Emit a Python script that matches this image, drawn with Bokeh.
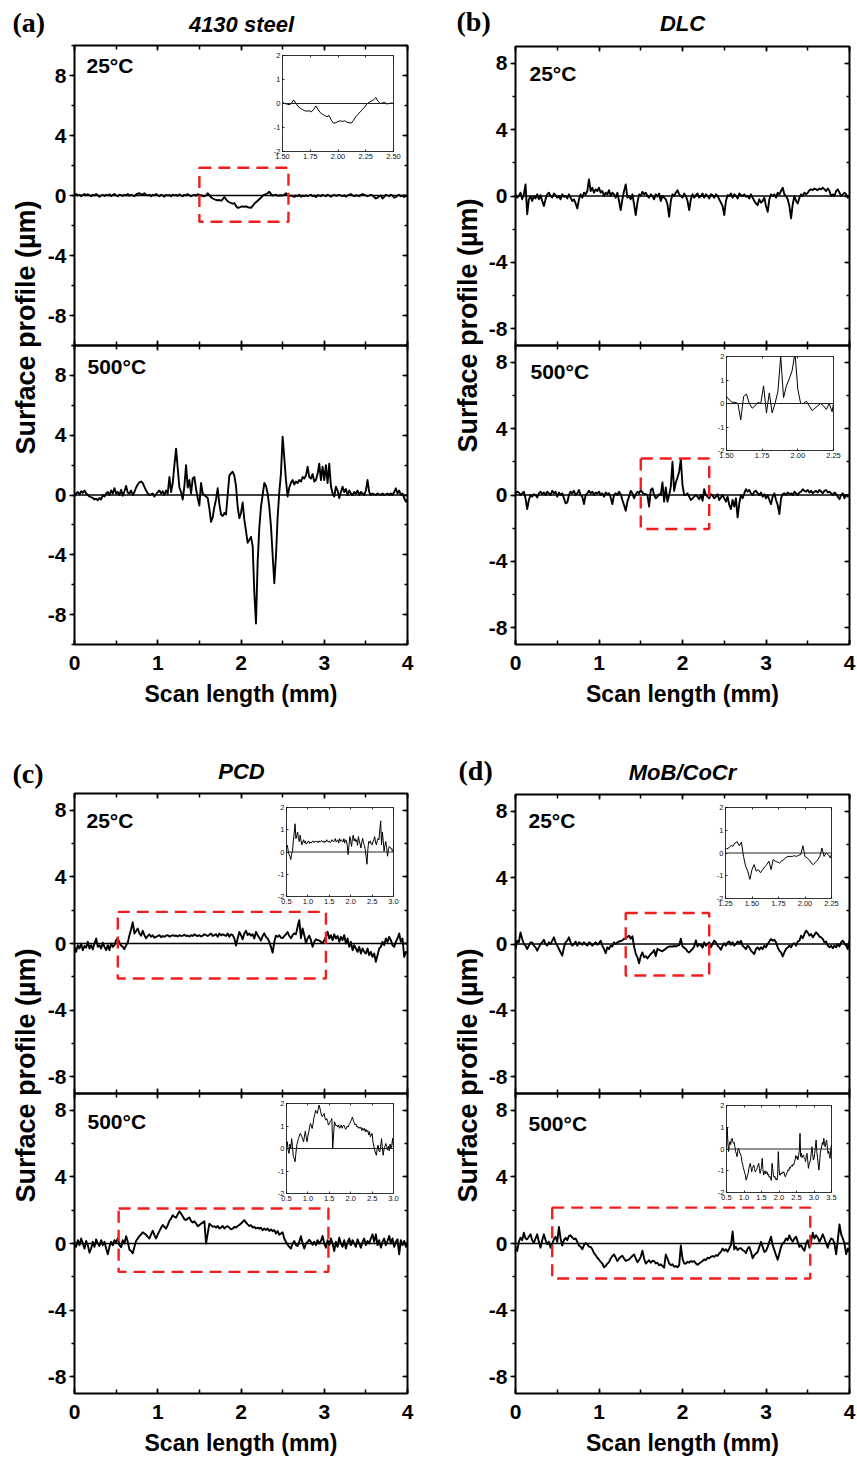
import math
import numpy as np
from bokeh.plotting import figure
from bokeh.models import (GridBox, Span, BoxAnnotation, Label, LinearAxis, Range1d,
                          SingleIntervalTicker, FixedTicker, CustomJSTickFormatter,
                          PrintfTickFormatter)
from bokeh.embed import file_html
from bokeh.resources import INLINE

# ---------------- data (surface profiles, um, sampled every 0.02 mm) ----------------
scan_step_mm = 0.02
scan_x = np.round(np.arange(201) * scan_step_mm, 2)

steel_25 = [
    0.05, 0.1, 0.0, 0.05, -0.05, 0.05, 0.1, 0.0, 0.08, 0.02,
    -0.05, 0.05, 0.0, 0.1, 0.02, -0.08, 0.0, 0.05, -0.03, 0.05,
    0.0, 0.08, -0.05, 0.03, 0.1, 0.0, -0.05, 0.05, 0.02, -0.03,
    0.05, 0.0, 0.1, -0.02, 0.05, 0.0, -0.05, 0.08, 0.12, 0.15,
    0.1, 0.05, 0.15, 0.05, 0.0, 0.05, -0.05, 0.05, 0.0, 0.1,
    0.02, -0.05, 0.05, 0.0, -0.08, 0.05, 0.0, 0.03, -0.05, 0.05,
    0.0, 0.05, -0.03, 0.08, 0.0, -0.05, 0.05, 0.0, 0.1, 0.02,
    -0.05, 0.0, 0.05, -0.02, 0.08, 0.05, 0.0, -0.02, -0.05, 0.0,
    0.15, 0.02, -0.12, -0.2, -0.25, -0.3, -0.32, -0.3, -0.35, -0.25,
    -0.1, -0.25, -0.38, -0.45, -0.5, -0.55, -0.5, -0.7, -0.82, -0.8,
    -0.75, -0.72, -0.75, -0.72, -0.78, -0.8, -0.82, -0.7, -0.55, -0.45,
    -0.35, -0.25, -0.15, -0.02, 0.05, 0.1, 0.15, 0.25, 0.1, 0.0,
    0.02, 0.05, -0.02, 0.0, 0.02, 0.0, 0.05, 0.15, 0.05, -0.05,
    0.0, -0.05, -0.1, 0.0, -0.05, 0.05, -0.08, 0.0, -0.05, 0.02,
    -0.05, 0.0, 0.05, -0.05, 0.0, -0.1, 0.02, 0.0, -0.05, 0.05,
    0.0, -0.05, 0.05, 0.0, -0.08, 0.0, 0.05, -0.02, 0.0, 0.05,
    0.0, -0.05, 0.02, -0.08, 0.0, 0.05, 0.1, 0.0, -0.05, 0.02,
    0.0, -0.05, 0.05, 0.1, 0.05, 0.0, -0.05, 0.0, 0.05, 0.0,
    -0.1, -0.2, -0.15, -0.05, 0.0, -0.2, -0.1, 0.05, 0.0, -0.05,
    0.05, 0.0, -0.15, -0.1, 0.0, 0.05, -0.05, 0.0, -0.1, -0.05,
    0.0]

steel_500 = [
    -0.1, 0.1, 0.2, 0.05, 0.25, 0.15, 0.3, 0.1, 0.0, -0.1,
    -0.15, -0.2, -0.3, -0.25, -0.35, -0.2, -0.3, 0.0, -0.1, 0.1,
    0.2, 0.0, 0.3, 0.1, 0.45, 0.1, 0.2, 0.0, 0.35, -0.05,
    0.25, 0.6, 0.15, 0.1, 0.3, 0.0, 0.2, 0.5, 0.7, 0.85,
    0.9, 0.8, 0.55, 0.3, 0.1, 0.0, 0.05, 0.1, -0.1, 0.05,
    0.2, 0.3, 0.1, 0.25, 0.0, 0.3, 0.1, 1.2, 0.2, 0.8,
    2.0, 3.1, 1.8, 0.5, 0.2, -0.3, 0.6, 2.0, 0.5, 1.0,
    0.1, 1.1, 1.2, 0.4, -0.2, -0.7, 0.8, 0.1, 0.0, -0.1,
    -0.2, -0.9, -1.8, -1.5, -0.8, -0.3, 0.45, -0.6, -1.3, -1.4,
    -1.2, -1.3, 0.0, 1.3, 1.45, 1.55, 1.3, 0.6, -0.8, -1.55,
    -1.2, -0.5, -1.65, -2.4, -3.2, -3.0, -2.8, -3.4, -6.5, -8.6,
    -4.5, -2.2, -0.8, 0.0, 0.8, 0.6, 0.1, -0.8, -2.1, -4.0,
    -5.9, -4.1, -1.5, 0.2, 1.45, 3.9, 2.5, 1.0, -0.1, 0.5,
    0.8, 1.0, 0.7, 0.9, 0.8, 1.0, 0.9, 1.2, 1.1, 1.3,
    1.9, 1.2, 1.1, 1.4, 0.9, 1.0, 1.4, 2.1, 1.0, 1.9,
    1.0, 2.0, 0.8, 2.1, 0.6, 0.1, -0.1, 0.55, 0.3, -0.2,
    0.2, 0.55, 0.2, 0.4, 0.0, 0.3, 0.1, 0.0, 0.2, 0.1,
    0.3, 0.0, 0.2, 0.1, 0.0, 0.3, 1.0, 0.2, 0.0, 0.1,
    0.05, 0.0, 0.1, 0.05, 0.0, 0.1, 0.0, 0.05, 0.1, 0.0,
    0.1, 0.0, 0.2, 0.45, 0.1, 0.3, 0.0, 0.1, -0.2, -0.45,
    -0.3]

dlc_25 = [
    0.1, -0.1, 0.0, 0.2, -0.2, 0.1, 0.7, -1.1, -0.2, 0.0,
    -0.3, 0.0, -0.15, 0.1, -0.2, 0.05, -0.3, -0.6, -0.2, 0.1,
    0.2, 0.0, -0.1, 0.15, 0.05, -0.1, 0.0, -0.2, 0.1, -0.05,
    0.0, -0.15, 0.1, -0.1, -0.3, -0.2, -0.45, -0.75, -0.2, 0.1,
    -0.1, 0.2, 0.1, 0.3, 1.0, 0.3, 0.5, 0.2, 0.4, 0.3,
    0.5, 0.2, 0.3, 0.0, 0.2, 0.1, 0.35, 0.0, 0.2, 0.1,
    -0.1, 0.2, -0.3, -0.85, -0.2, 0.3, 0.7, -0.1, 0.0, -0.2,
    0.1, -0.5, -1.15, -0.4, 0.1, 0.0, 0.25, 0.1, 0.2, 0.0,
    -0.1, 0.1, 0.0, -0.2, 0.1, -0.05, 0.15, -0.3, 0.0, -0.1,
    -0.2, -0.5, -1.25, -0.3, 0.1, 0.0, 0.2, 0.35, 0.1, 0.0,
    -0.1, 0.15, 0.0, -0.3, -0.85, -0.2, 0.1, -0.1, 0.05, 0.15,
    -0.1, 0.0, 0.15, -0.1, 0.1, 0.0, -0.15, 0.1, 0.05, -0.1,
    0.1, 0.0, -0.2, -0.4, -0.6, -1.15, -0.3, 0.05, 0.0, 0.15,
    -0.1, 0.1, 0.0, -0.15, 0.15, 0.05, 0.0, 0.1, -0.05, 0.0,
    -0.15, 0.1, -0.1, -0.3, -0.45, -0.55, -0.2, -0.4, -0.3, -0.1,
    -0.6, -0.95, -0.2, 0.1, 0.0, 0.1, -0.1, 0.2, 0.1, 0.3,
    0.5, 0.1, 0.0, -0.2, -0.6, -1.35, -0.5, 0.0, -0.3, -0.45,
    -0.1, 0.1, 0.0, 0.2, 0.1, 0.2, 0.35, 0.4, 0.35, 0.45,
    0.4, 0.35, 0.45, 0.4, 0.5, 0.4, 0.3, 0.45, 0.3, 0.0,
    0.1, 0.0, 0.3, 0.4, 0.2, 0.0, 0.1, 0.2, 0.1, -0.1,
    0.0]

dlc_500 = [
    0.1, 0.2, 0.15, 0.0, 0.1, 0.2, -0.2, -0.85, -0.3, 0.0,
    -0.1, 0.05, 0.0, -0.15, 0.1, 0.2, 0.05, 0.15, 0.0, 0.2,
    0.1, 0.0, 0.25, 0.1, 0.2, -0.1, 0.15, 0.0, 0.1, -0.2,
    -0.5, -0.45, 0.0, 0.2, 0.1, 0.25, 0.0, 0.1, 0.3, 0.0,
    -0.1, -0.55, 0.0, 0.1, 0.25, 0.1, 0.2, 0.0, 0.15, 0.1,
    0.2, 0.0, 0.1, -0.1, 0.15, 0.05, 0.1, -0.15, -0.55, 0.0,
    0.1, 0.0, 0.2, 0.05, -0.3, -0.6, -0.95, -0.4, -0.1, 0.25,
    0.1, -0.2, 0.05, 0.2, 0.1, 0.3, 0.15, 0.05, 0.05, 0.0,
    -0.7, 0.3, 0.4, 0.0, -0.2, -0.1, 0.05, 0.0, 0.75, -0.4,
    0.45, -0.4, 0.0, 0.5, 2.0, 0.25, 0.75, 1.05, 1.4, 2.15,
    0.6, 0.0, 0.0, 0.1, -0.1, -0.3, -0.2, -0.1, 0.0, -0.1,
    -0.25, 0.0, -0.35, 0.35, 0.0, -0.1, -0.2, 0.05, -0.05, -0.2,
    -0.1, 0.05, -0.3, -0.15, 0.0, -0.2, -0.4, -0.1, -0.6, -0.85,
    -0.3, -0.7, -0.2, -1.35, -0.5, 0.0, -0.2, 0.1, 0.35, 0.2,
    0.3, 0.1, 0.0, 0.2, 0.25, 0.1, 0.0, 0.15, -0.1, 0.05,
    -0.2, 0.0, -0.3, -0.55, -0.1, 0.1, -0.3, -0.6, -1.15, -0.2,
    0.05, 0.1, 0.0, 0.15, 0.05, 0.1, 0.0, 0.2, 0.1, 0.0,
    0.15, 0.2, 0.35, 0.25, 0.2, 0.3, 0.15, 0.25, 0.1, 0.2,
    0.25, 0.15, 0.3, 0.2, 0.1, 0.25, 0.3, 0.15, 0.2, 0.1,
    0.0, 0.15, 0.05, -0.1, -0.25, 0.0, 0.1, -0.2, 0.0, -0.1,
    0.0]

pcd_25 = [
    -0.2, -0.5, -0.1, -0.3, 0.0, -0.4, -0.15, -0.25, 0.1, -0.3,
    -0.1, -0.35, 0.0, 0.3, -0.2, -0.1, -0.3, 0.05, -0.2, -0.4,
    -0.1, -0.4, 0.0, -0.2, -0.1, 0.2, 0.3, 0.05, -0.12, -0.2,
    -0.34, -0.1, 0.05, 0.5, 0.85, 1.27, 0.6, 0.75, 0.9, 0.6,
    0.47, 0.76, 0.5, 0.32, 0.45, 0.55, 0.4, 0.5, 0.35, 0.4,
    0.45, 0.5, 0.38, 0.45, 0.4, 0.47, 0.5, 0.42, 0.45, 0.5,
    0.45, 0.48, 0.42, 0.5, 0.45, 0.47, 0.52, 0.45, 0.48, 0.42,
    0.5, 0.45, 0.55, 0.48, 0.45, 0.5, 0.42, 0.47, 0.55, 0.5,
    0.45, 0.52, 0.6, 0.45, 0.5, 0.55, 0.4, 0.6, 0.48, 0.55,
    0.5, 0.45, 0.6, 0.4, 0.55, 0.5, 0.3, -0.12, 0.3, 0.69,
    0.5, 0.25, 0.6, 0.76, 0.5, 0.6, 0.47, 0.55, 0.3, 0.69,
    0.5, 0.35, 0.18, 0.45, 0.61, 0.4, 0.3, 0.1, -0.2, -0.55,
    0.1, 0.47, 0.4, 0.5, 0.35, 0.32, 0.45, 0.55, 0.69, 0.45,
    0.32, 0.5, 0.61, 0.55, 1.0, 1.4, 0.32, 0.9, 0.5, 0.03,
    0.3, 0.47, 0.2, -0.19, 0.1, 0.25, 0.2, 0.18, 0.1, 0.03,
    0.2, 0.4, 0.7, 0.3, 0.5, 0.2, 0.55, 0.3, 0.45, 0.1,
    0.4, 0.2, 0.5, 0.0, 0.3, -0.2, 0.1, -0.4, -0.1, -0.3,
    -0.5, -0.2, -0.6, -0.3, -0.5, -0.6, -0.3, -0.7, -0.5, -0.8,
    -0.6, -1.1, -0.7, -0.3, -0.2, 0.1, -0.1, 0.3, 0.1, 0.4,
    0.2, -0.1, -0.2, 0.1, 0.3, 0.6, 0.1, 0.3, -0.8, -0.5,
    -0.6]

pcd_500 = [
    0.1, -0.2, 0.2, -0.1, 0.3, 0.0, -0.3, 0.15, -0.1, -0.55,
    -0.3, 0.1, -0.2, 0.25, 0.0, -0.15, 0.2, -0.1, 0.1, -0.3,
    -0.65, -0.2, 0.1, -0.1, 0.2, 0.07, 0.3, -0.1, -0.22, 0.2,
    0.0, 0.44, 0.1, -0.37, -0.45, -0.59, -0.2, 0.15, 0.3, 0.44,
    0.55, 0.67, 0.6, 0.52, 0.4, 0.3, 0.55, 0.77, 0.5, 0.3,
    0.55, 0.74, 0.95, 1.11, 1.0, 0.89, 1.1, 1.36, 1.5, 1.7,
    1.6, 1.56, 1.75, 1.93, 1.8, 1.63, 1.45, 1.41, 1.5, 1.56,
    1.35, 1.26, 1.33, 1.2, 1.04, 1.1, 1.19, 1.25, 1.33, 0.0,
    0.6, 1.19, 1.1, 1.0, 1.04, 0.95, 1.05, 0.9, 0.96, 1.05,
    0.9, 1.0, 1.04, 0.95, 0.85, 0.89, 1.0, 0.95, 1.05, 1.11,
    1.2, 1.3, 1.4, 1.26, 1.15, 1.05, 1.1, 0.96, 1.0, 0.9,
    0.95, 0.89, 0.95, 0.8, 0.9, 0.81, 0.9, 0.75, 0.85, 0.74,
    0.8, 0.6, 0.75, 0.52, 0.6, 0.67, 0.3, 0.1, -0.07, -0.2,
    -0.3, 0.0, 0.15, -0.1, -0.15, 0.1, 0.44, 0.0, -0.3, 0.0,
    0.1, 0.22, 0.1, -0.07, 0.1, -0.1, 0.2, 0.0, 0.15, 0.45,
    0.0, -0.25, 0.2, -0.1, 0.3, 0.0, -0.45, 0.1, -0.2, 0.35,
    0.0, -0.2, 0.2, -0.3, 0.05, 0.3, -0.1, 0.2, 0.0, -0.2,
    0.25, 0.0, -0.25, 0.1, 0.3, -0.1, 0.15, 0.0, 0.3, 0.55,
    0.1, 0.55, -0.1, 0.2, -0.25, 0.1, 0.3, -0.1, 0.15, 0.45,
    0.0, 0.3, -0.2, 0.1, 0.25, -0.65, 0.2, -0.1, 0.15, -0.2,
    0.1]

mob_25 = [
    -0.3, 0.2, 0.1, 0.7, 0.3, 0.0, -0.1, -0.3, -0.1, 0.1,
    0.1, -0.1, -0.2, -0.4, -0.2, 0.0, 0.1, 0.25, 0.0, -0.1,
    0.1, 0.0, 0.2, 0.4, 0.1, -0.1, -0.3, -0.5, -0.7, -0.2,
    0.1, 0.2, 0.4, 0.1, -0.1, 0.0, 0.15, -0.1, 0.1, 0.05,
    -0.05, 0.1, 0.0, -0.1, 0.1, 0.05, -0.1, 0.0, 0.1, -0.05,
    0.05, 0.2, -0.1, -0.3, -0.55, -0.2, -0.3, -0.1, -0.15, 0.1,
    0.0, 0.1, 0.15, 0.18, 0.22, 0.32, 0.3, 0.44, 0.5, 0.32,
    0.47, -0.15, -0.58, -0.8, -1.16, -0.73, -0.51, -0.8, -0.73, -0.87,
    -0.73, -0.6, -0.51, -0.36, -0.73, -0.29, -0.36, -0.4, -0.44, -0.35,
    -0.29, -0.2, -0.15, -0.15, -0.15, -0.12, -0.15, -0.1, -0.07, 0.32,
    -0.15, -0.22, -0.3, -0.45, -0.51, -0.4, -0.3, -0.15, 0.22, -0.15,
    0.0, -0.07, -0.22, 0.1, -0.1, 0.0, 0.1, -0.2, 0.0, 0.2,
    0.1, -0.1, -0.2, -0.35, -0.1, 0.05, -0.1, 0.1, 0.15, -0.05,
    0.1, -0.1, 0.0, 0.15, 0.05, 0.2, -0.1, -0.2, -0.3, -0.1,
    -0.2, -0.4, -0.5, -0.6, -0.3, -0.2, -0.35, -0.2, -0.3, -0.1,
    -0.2, 0.0, 0.15, 0.3, 0.2, 0.25, 0.1, -0.2, -0.4, -0.5,
    -0.75, -0.5, -0.3, -0.2, -0.1, -0.2, 0.0, 0.05, -0.1, 0.15,
    0.2, 0.5, 0.35, 0.6, 0.8, 0.7, 0.5, 0.6, 0.4, 0.55,
    0.7, 0.6, 0.45, 0.4, 0.3, 0.1, 0.15, -0.1, -0.2, -0.1,
    -0.25, -0.1, -0.2, 0.0, -0.15, 0.1, 0.2, 0.05, -0.1, -0.3,
    0.2]

mob_500 = [
    -0.2, -0.45, 0.1, 0.35, 0.2, 0.65, 0.3, 0.25, 0.4, 0.55,
    0.2, 0.05, 0.3, 0.55, 0.1, -0.25, 0.2, 0.55, 0.2, -0.05,
    0.1, -0.25, 0.0, 0.25, 0.4, 0.1, 1.0, 0.3, -0.12, 0.2,
    0.34, 0.2, 0.45, 0.49, 0.35, 0.26, 0.3, 0.1, -0.12, -0.2,
    -0.35, -0.1, 0.03, -0.05, -0.2, -0.2, -0.35, -0.58, -0.7, -0.85,
    -0.97, -1.1, -1.2, -1.43, -1.35, -1.2, -1.12, -0.9, -0.75, -0.66,
    -0.85, -1.05, -0.9, -0.8, -0.74, -0.9, -1.05, -1.0, -0.95, -0.85,
    -0.75, -0.66, -0.9, -1.12, -1.0, -0.8, -0.43, -0.9, -1.2, -1.1,
    -1.0, -1.15, -1.05, -1.05, -1.2, -1.15, -1.3, -1.25, -1.35, -1.45,
    -0.66, -0.9, -1.2, -1.3, -1.25, -1.4, -1.35, -1.43, -1.3, -0.12,
    -0.9, -1.2, -1.2, -1.1, -1.15, -1.05, -1.1, -1.05, -1.2, -1.28,
    -1.2, -1.12, -1.05, -0.95, -1.0, -0.85, -0.89, -0.8, -0.75, -0.8,
    -0.7, -0.74, -0.6, -0.5, -0.3, -0.43, -0.35, -0.5, -0.3, -0.1,
    0.72, -0.35, -0.2, -0.4, -0.3, -0.28, -0.4, -0.45, -0.58, -0.3,
    -0.2, -0.5, -0.89, -0.7, -0.6, -0.51, -0.2, 0.1, -0.2, -0.51,
    -0.45, -0.2, 0.1, 0.41, -0.1, -0.4, -0.7, -0.97, -0.6, -0.2,
    0.0, 0.1, 0.3, 0.2, 0.49, 0.25, 0.1, 0.3, 0.41, 0.1,
    -0.2, -0.1, -0.3, -0.43, 0.0, 0.2, -0.25, 0.1, 0.65, 0.3,
    0.5, 0.35, 0.1, 0.3, 0.55, 0.3, 0.0, -0.25, 0.1, 0.3,
    0.25, 0.0, -0.65, 0.2, 1.15, 0.55, 0.3, 0.0, -0.65, -0.3,
    -0.5]

panel_titles = ["4130 steel", "DLC", "PCD", "MoB/CoCr"]
panel_tags = ["(a)", "(b)", "(c)", "(d)"]
temps = ["25\u00b0C", "500\u00b0C"]
y_half_range = [10, 9, 9, 9]
profiles = [[steel_25, steel_500], [dlc_25, dlc_500], [pcd_25, pcd_500], [mob_25, mob_500]]

# zoom boxes (x0, x1, y0, y1) in data units; None = no inset
zoom_boxes = [[(1.5, 2.57, -1.75, 1.85), None],
              [None, (1.5, 2.32, -2.05, 2.2)],
              [(0.52, 3.02, -2.1, 1.9), (0.53, 3.05, -1.7, 2.1)],
              [(1.32, 2.32, -1.9, 1.87), (0.44, 3.53, -2.1, 2.15)]]
inset_x_ranges = [[(1.5, 2.5), None],
                  [None, (1.5, 2.25)],
                  [(0.5, 3.0), (0.5, 3.0)],
                  [(1.25, 2.25), (0.5, 3.5)]]
inset_x_ticks = [[[1.5, 1.75, 2.0, 2.25, 2.5], None],
                 [None, [1.5, 1.75, 2.0, 2.25]],
                 [[0.5, 1.0, 1.5, 2.0, 2.5, 3.0], [0.5, 1.0, 1.5, 2.0, 2.5, 3.0]],
                 [[1.25, 1.5, 1.75, 2.0, 2.25], [0.5, 1.0, 1.5, 2.0, 2.5, 3.0, 3.5]]]
inset_x_fmt = [["%.2f", None], [None, "%.2f"], ["%.1f", "%.1f"], ["%.2f", "%.1f"]]

# ---------------- layout (pixels) ----------------
FONT = "Liberation Sans"
W, H = 857, 1460
BL, BR, BT, BB = 70, 30, 30, 95   # common borders for all plot panels

main_frames = [  # (left, top, width, height) for upper, lower
    [(74, 45, 333, 300), (74, 345, 333, 299)],
    [(515, 46, 334, 299), (515, 345, 334, 299)],
    [(74, 793, 333, 300), (74, 1093, 333, 300)],
    [(515, 794, 334, 299), (515, 1093, 334, 300)],
]
inset_frames = [[(282, 55, 111, 96), None],
                [None, (726, 356, 107, 94)],
                [(286, 807, 107, 89), (286, 1103, 107, 90)],
                [(725, 807, 106, 91), (726, 1105, 105, 87)]]


def blank():
    return CustomJSTickFormatter(code="return ''")


def hyphen_int():
    return CustomJSTickFormatter(code="return tick.toFixed(0)")


def new_fig(frame, xr, yr):
    left, top, fw, fh = frame
    p = figure(frame_width=fw, frame_height=fh, x_range=Range1d(*xr), y_range=Range1d(*yr),
               x_axis_type=None, y_axis_type=None, toolbar_location=None, output_backend="svg",
               min_border_left=BL, min_border_right=BR, min_border_top=BT, min_border_bottom=BB)
    # negative right/bottom margins keep the occupied box inside the window
    p.margin = (top - BT, -BR, -BB, left - BL)
    p.border_fill_alpha = 0
    return p


def style_axis(ax, tick_in, tick_out, minor_in, minor_out, width=1.5):
    ax.axis_line_color = None
    ax.major_tick_in = tick_in
    ax.major_tick_out = tick_out
    ax.minor_tick_in = minor_in
    ax.minor_tick_out = minor_out
    ax.major_tick_line_color = "black"
    ax.minor_tick_line_color = "black"
    ax.major_tick_line_width = width
    ax.minor_tick_line_width = width


def main_fig(frame, yr, xs, ys, box, show_x):
    p = new_fig(frame, (0, 4), (-yr, yr))
    p.background_fill_alpha = 0
    p.outline_line_color = "black"
    p.outline_line_width = 2
    p.outline_line_alpha = 1

    ly = LinearAxis(ticker=SingleIntervalTicker(interval=4, num_minor_ticks=2), formatter=hyphen_int())
    style_axis(ly, 0, 5, 0, 3)
    ly.major_label_text_font = FONT
    ly.major_label_text_font_style = "bold"
    ly.major_label_text_font_size = "21px"
    ly.major_label_text_color = "black"
    ly.major_label_standoff = 3
    p.add_layout(ly, "left")

    ry = LinearAxis(ticker=SingleIntervalTicker(interval=4, num_minor_ticks=2), formatter=blank())
    style_axis(ry, 5, 0, 3, 0)
    p.add_layout(ry, "right")

    tx = LinearAxis(ticker=SingleIntervalTicker(interval=1, num_minor_ticks=2), formatter=blank())
    style_axis(tx, 5, 0, 4, 0)
    p.add_layout(tx, "above")

    bx = LinearAxis(ticker=SingleIntervalTicker(interval=1, num_minor_ticks=2))
    style_axis(bx, 5, 0, 4, 0)
    if show_x:
        bx.formatter = hyphen_int()
        bx.major_label_text_font = FONT
        bx.major_label_text_font_style = "bold"
        bx.major_label_text_font_size = "21px"
        bx.major_label_text_color = "black"
        bx.major_label_standoff = 11
        bx.axis_label = "Scan length (mm)"
        bx.axis_label_text_font = FONT
        bx.axis_label_text_font_style = "bold"
        bx.axis_label_text_font_size = "23px"
        bx.axis_label_text_color = "black"
        bx.axis_label_standoff = 8
    else:
        bx.formatter = blank()
    p.add_layout(bx, "below")

    p.add_layout(Span(location=0, dimension="width", line_color="black", line_width=1.6))
    p.line(xs, ys, line_color="black", line_width=1.9, line_join="round")
    if box is not None:
        x0, x1, y0, y1 = box
        p.add_layout(BoxAnnotation(left=x0, right=x1, bottom=y0, top=y1,
                                   fill_alpha=0, fill_color=None,
                                   line_color="#f21e1e", line_alpha=1.0, line_width=2.4,
                                   line_dash="12 7"))
    return p


def inset_fig(frame, xr, xticks, fmt, xs, ys):
    p = new_fig(frame, xr, (-2, 2))
    p.background_fill_color = "white"
    p.background_fill_alpha = 1
    p.outline_line_color = "#333333"
    p.outline_line_width = 1

    ly = LinearAxis(ticker=FixedTicker(ticks=[-2, -1, 0, 1, 2]), formatter=hyphen_int())
    style_axis(ly, 2, 0, 0, 0, width=0.8)
    ly.major_label_text_font = FONT
    ly.major_label_text_font_size = "7.5px"
    ly.major_label_text_color = "#111111"
    ly.major_label_standoff = 2
    p.add_layout(ly, "left")

    bx = LinearAxis(ticker=FixedTicker(ticks=xticks), formatter=PrintfTickFormatter(format=fmt))
    style_axis(bx, 2, 0, 0, 0, width=0.8)
    bx.major_label_text_font = FONT
    bx.major_label_text_font_size = "7.5px"
    bx.major_label_text_color = "#111111"
    bx.major_label_standoff = 2
    p.add_layout(bx, "below")

    tx = LinearAxis(ticker=FixedTicker(ticks=xticks), formatter=blank())
    style_axis(tx, 2, 0, 0, 0, width=0.8)
    p.add_layout(tx, "above")

    p.add_layout(Span(location=0, dimension="width", line_color="#222222", line_width=1))
    p.line(xs, ys, line_color="black", line_width=1)
    return p


mains, insets = [], []
for k in range(4):
    for j in range(2):
        ys = profiles[k][j]
        assert len(ys) == len(scan_x)
        mains.append(main_fig(main_frames[k][j], y_half_range[k], scan_x, ys,
                              zoom_boxes[k][j], show_x=(j == 1)))
        if inset_frames[k][j] is not None:
            insets.append(inset_fig(inset_frames[k][j], inset_x_ranges[k][j], inset_x_ticks[k][j],
                                    inset_x_fmt[k][j], scan_x, ys))

plots_grid = GridBox(children=[(c, 0, 0) for c in mains + insets])

# text overlay (own grid level): frame = whole window, data coordinates = page pixels
ov = figure(width=W, height=H, x_range=Range1d(0, W), y_range=Range1d(H, 0),
            x_axis_type=None, y_axis_type=None, toolbar_location=None, output_backend="svg",
            min_border=0)
ov.background_fill_alpha = 0
ov.border_fill_alpha = 0
ov.outline_line_color = None

# text anchor points (visual centres, page pixels)
tag_pos = [(12, 22), (456, 21), (12, 773), (458, 770)]
title_pos = [(241, 24), (682, 23), (241, 771), (682, 772)]
temp_pos = [[(86, 64.5), (87, 365.5)], [(529, 72.5), (530, 370.5)],
            [(86, 819.5), (87, 1120.5)], [(528, 819.5), (528, 1122.5)]]
ylab_pos = [(25, 327), (467, 325), (25, 1075), (467, 1075)]

for k in range(4):
    ov.add_layout(Label(x=tag_pos[k][0], y=tag_pos[k][1], text=panel_tags[k],
                        text_font="Liberation Serif", text_font_style="bold",
                        text_font_size="28px", text_baseline="middle", text_align="left",
                        text_color="black"))
    ov.add_layout(Label(x=title_pos[k][0], y=title_pos[k][1], text=panel_titles[k],
                        text_font=FONT, text_font_style="bold italic", text_font_size="22px",
                        text_baseline="middle", text_align="center", text_color="black"))
    for j in range(2):
        ov.add_layout(Label(x=temp_pos[k][j][0], y=temp_pos[k][j][1], text=temps[j],
                            text_font=FONT, text_font_style="bold", text_font_size="21px",
                            text_baseline="middle", text_align="left", text_color="black"))
    ov.add_layout(Label(x=ylab_pos[k][0], y=ylab_pos[k][1], text="Surface profile (\u00b5m)",
                        text_font=FONT, text_font_style="bold", text_font_size="27px",
                        text_baseline="middle", text_align="center", angle=math.pi / 2,
                        text_color="black"))

root = GridBox(children=[(plots_grid, 0, 0), (ov, 0, 0)])

open("out.html", "w").write(file_html(root, INLINE))
